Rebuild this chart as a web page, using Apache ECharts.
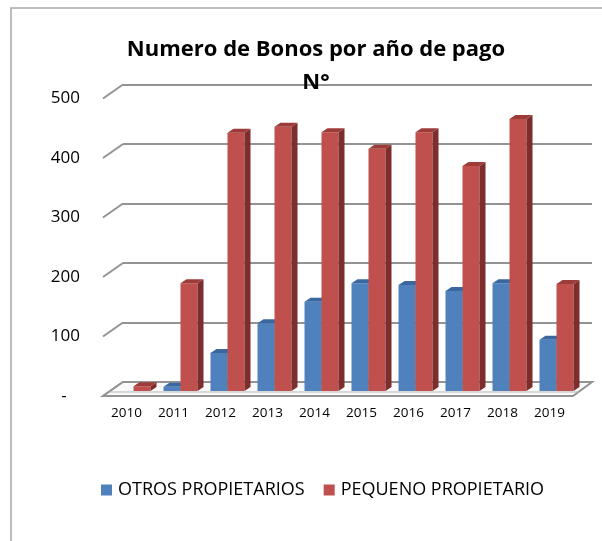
<!DOCTYPE html>
<html>
<head>
<meta charset="utf-8">
<script src="https://cdn.jsdelivr.net/npm/echarts@6/dist/echarts.min.js"></script>
<style>
  html, body { margin: 0; padding: 0; background: #fff; }
  #chart { width: 602px; height: 541px; }
</style>
</head>
<body>
<div id="chart"></div>
<script>
const years = ['2010', '2011', '2012', '2013', '2014', '2015', '2016', '2017', '2018', '2019'];
const otros = [0, 7, 64, 114, 150, 181, 178, 168, 181, 86];
const pequeno = [8, 181, 434, 444, 435, 407, 435, 378, 457, 180];
const yTicks = [0, 100, 200, 300, 400, 500];

const chart = echarts.init(document.getElementById('chart'));

// depth of the floor / back wall and of each bar
const wallDx = 20, wallDy = 14;
const barDx = 6, barDy = 4;
const barW = 17;

function bar3d(offset, front, top, side) {
  return function (params, api) {
    const v = api.value(1);
    if (!v) return null;
    const p = api.coord([api.value(0), v]);
    const b = api.coord([api.value(0), 0]);
    const x0 = p[0] + offset, x1 = x0 + barW, yt = p[1], yb = b[1];
    return {
      type: 'group',
      children: [
        { type: 'rect', shape: { x: x0, y: yt, width: barW, height: yb - yt }, style: { fill: front } },
        { type: 'polygon', shape: { points: [[x1, yt], [x1 + barDx, yt - barDy], [x1 + barDx, yb - barDy], [x1, yb]] }, style: { fill: side } },
        { type: 'polygon', shape: { points: [[x0, yt], [x0 + barDx, yt - barDy], [x1 + barDx, yt - barDy], [x1, yt]] }, style: { fill: top } }
      ]
    };
  };
}

const gridLine = { color: '#939393', width: 2 };

chart.setOption({
  animation: false,
  title: {
    text: 'Numero de Bonos por año de pago\nN°',
    left: 311,
    top: 28,
    textAlign: 'center',
    textStyle: { fontFamily: 'Open Sans', fontWeight: 'bold', fontSize: 22, lineHeight: 33, color: '#000' }
  },
  legend: {
    left: 96,
    top: 476,
    icon: 'rect',
    itemWidth: 11,
    itemHeight: 11,
    itemGap: 19,
    textStyle: { fontFamily: 'Open Sans', fontSize: 18, color: '#000', padding: [0, 0, 0, 1] },
    data: ['OTROS PROPIETARIOS', 'PEQUENO PROPIETARIO']
  },
  graphic: [
    { type: 'rect', shape: { x: 11, y: 8, width: 640, height: 600 }, style: { fill: null, stroke: '#a6a6a6', lineWidth: 1.5 }, silent: true }
  ],
  grid: [
    { left: 103, top: 98.5, width: 470, height: 297.5 },
    { left: 110, top: 93.5, width: 470, height: 297.5 },
    { left: 123, top: 84.5, width: 469, height: 297.5 }
  ],
  xAxis: [
    {
      gridIndex: 0, type: 'category', data: years,
      axisLine: { show: false }, axisTick: { show: false },
      axisLabel: { fontFamily: 'Open Sans', fontSize: 13.5, color: '#000', margin: 10 }
    },
    { gridIndex: 1, type: 'category', data: years, show: false },
    { gridIndex: 2, type: 'category', data: years, show: false }
  ],
  yAxis: [
    {
      gridIndex: 0, type: 'value', min: 0, max: 500, interval: 100,
      axisLine: { show: false }, axisTick: { show: false }, splitLine: { show: false },
      axisLabel: {
        fontFamily: 'Open Sans', fontSize: 17, color: '#000', margin: 23,
        formatter: v => (v === 0 ? '-   ' : String(v))
      }
    },
    { gridIndex: 1, type: 'value', min: 0, max: 500, interval: 100, show: false },
    {
      gridIndex: 2, type: 'value', min: 0, max: 500, interval: 100,
      axisLine: { show: false }, axisTick: { show: false }, axisLabel: { show: false },
      splitLine: { show: true, lineStyle: gridLine }
    }
  ],
  series: [
    {
      // slanted tick lines and the floor
      type: 'custom',
      xAxisIndex: 0, yAxisIndex: 0, z: 1, silent: true,
      data: yTicks.map(v => [0, v]),
      renderItem: function (params, api) {
        const x = params.coordSys.x;
        const y = api.coord([0, api.value(1)])[1];
        const children = [
          { type: 'line', shape: { x1: x, y1: y, x2: x + wallDx, y2: y - wallDy }, style: { stroke: gridLine.color, lineWidth: gridLine.width } }
        ];
        if (api.value(1) === 0) {
          const w = params.coordSys.width;
          children.push({
            type: 'polygon',
            shape: { points: [[x, y], [x + wallDx, y - wallDy], [x + w + wallDx - 1, y - wallDy], [x + w, y]] },
            style: { fill: '#fafafa', stroke: gridLine.color, lineWidth: gridLine.width }
          });
          children.push({
            type: 'line', shape: { x1: x + 6, y1: y - 4, x2: x + w + 6, y2: y - 4 },
            style: { stroke: '#b5b5b5', lineWidth: 1 }
          });
        }
        return { type: 'group', children: children };
      }
    },
    {
      name: 'OTROS PROPIETARIOS',
      type: 'custom',
      xAxisIndex: 1, yAxisIndex: 1, z: 3,
      itemStyle: { color: '#4F81BD' },
      data: otros.map((v, i) => [i, v]),
      renderItem: bar3d(-barW, '#4F81BD', '#3A679F', '#355C8C')
    },
    {
      name: 'PEQUENO PROPIETARIO',
      type: 'custom',
      xAxisIndex: 1, yAxisIndex: 1, z: 3,
      itemStyle: { color: '#C0504D' },
      data: pequeno.map((v, i) => [i, v]),
      renderItem: bar3d(0, '#C0504D', '#9C3B38', '#7D2D2B')
    }
  ]
});
</script>
</body>
</html>
